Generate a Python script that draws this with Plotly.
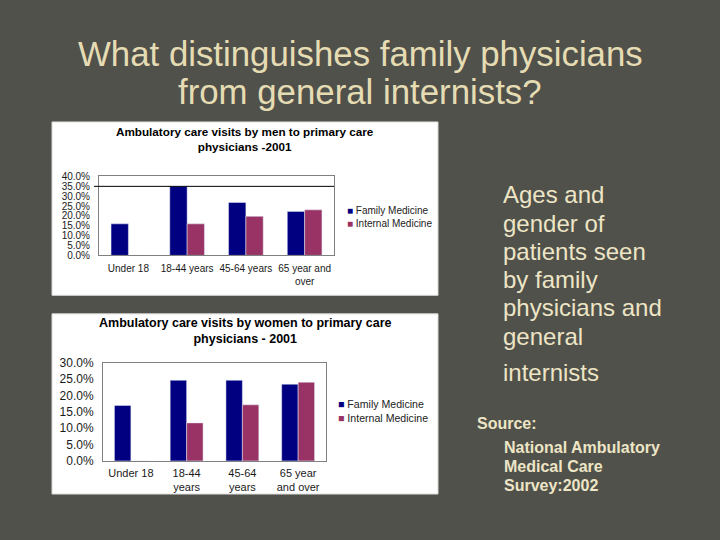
import plotly.graph_objects as go

# age groups
age_men = ["Under 18", "18-44 years", "45-64 years", "65 year and<br>over"]
age_women = ["Under 18", "18-44<br>years", "45-64<br>years", "65 year<br>and over"]

# share of visits (%) - men
men_family = [16.0, 35.0, 26.8, 22.3]
men_internal = [0.0, 16.0, 19.8, 23.1]

# share of visits (%) - women
women_family = [16.9, 24.6, 24.6, 23.4]
women_internal = [0.0, 11.6, 17.1, 24.0]

men_ticks = [0, 5, 10, 15, 20, 25, 30, 35, 40]
women_ticks = [0, 5, 10, 15, 20, 25, 30]

NAVY = "#000080"
PLUM = "#993366"
W, H = 720, 540


def px_x(v):
    return v / W


def px_y(v):
    return 1 - v / H


fig = go.Figure()

fig.add_trace(go.Bar(x=age_men, y=men_family, name="Family Medicine",
                     marker_color=NAVY, xaxis="x", yaxis="y"))
fig.add_trace(go.Bar(x=age_men, y=men_internal, name="Internal Medicine",
                     marker_color=PLUM, xaxis="x", yaxis="y"))
fig.add_trace(go.Bar(x=age_women, y=women_family, name="Family Medicine",
                     marker_color=NAVY, xaxis="x2", yaxis="y2"))
fig.add_trace(go.Bar(x=age_women, y=women_internal, name="Internal Medicine",
                     marker_color=PLUM, xaxis="x2", yaxis="y2"))

axis_font = dict(family="Liberation Sans, Arial", size=10, color="#1a1a1a")

fig.update_layout(
    width=W, height=H,
    margin=dict(l=0, r=0, t=0, b=0),
    paper_bgcolor="#50514a",
    plot_bgcolor="#c0c0c0",
    showlegend=False,
    barmode="group",
    bargap=0.41,
    bargroupgap=0,
    font=dict(family="Liberation Sans, Arial"),
    xaxis=dict(domain=[px_x(99), px_x(334)], anchor="y",
               showline=True, linecolor="#808080", mirror=True,
               ticks="", tickfont=axis_font, ticklabelstandoff=4),
    yaxis=dict(domain=[px_y(255), px_y(174)], anchor="x",
               range=[0, 40], tickvals=men_ticks,
               ticktext=[f"{t:.1f}%" for t in men_ticks],
               showgrid=False, zeroline=False,
               showline=True, linecolor="#808080", mirror=True,
               ticks="", tickfont=axis_font, ticklabelstandoff=6),
    xaxis2=dict(domain=[px_x(103), px_x(326)], anchor="y2",
                showline=True, linecolor="#808080", mirror=True,
                ticks="", tickfont=dict(axis_font, size=11), ticklabelstandoff=2),
    yaxis2=dict(domain=[px_y(466), px_y(365)], anchor="x2",
                range=[0, 30], tickvals=women_ticks,
                ticktext=[f"{t:.1f}%" for t in women_ticks],
                showgrid=False, zeroline=False,
                showline=True, linecolor="#808080", mirror=True,
                ticks="", tickfont=dict(axis_font, size=12), ticklabelstandoff=6),
)

# white chart panels
for top, bottom in [(118, 296), (315, 500)]:
    fig.add_shape(type="rect", xref="paper", yref="paper", layer="below",
                  x0=px_x(52), x1=px_x(438), y0=px_y(bottom), y1=px_y(top),
                  fillcolor="white", line=dict(color="#d8d8d8", width=1))

# the black line at 35% in the men's chart
fig.add_shape(type="line", xref="paper", yref="y",
              x0=px_x(94), x1=px_x(334), y0=35, y1=35,
              line=dict(color="black", width=1))

ann = []


def add_text(text, x, y, size, color, xanchor="left", **kw):
    ann.append(dict(text=text, x=px_x(x), y=px_y(y), xref="paper", yref="paper",
                    xanchor=xanchor, yanchor="middle", showarrow=False,
                    font=dict(size=size, color=color), **kw))


title_color = "#e6dcb4"
add_text("What distinguishes family physicians", 360, 48, 34.8, title_color, "center")
add_text("from general internists?", 360, 87, 34.8, title_color, "center")

add_text("<b>Ambulatory care visits by men to primary care<br>physicians -2001</b>",
         245, 136, 11.7, "black", "center", align="center")
add_text("<b>Ambulatory care visits by women to primary care<br>physicians - 2001</b>",
         245, 333, 12.5, "black", "center", align="center")

# legends
for lx, ly, fs in [(345, 216, 10), (336, 415, 10.6)]:
    add_text(f"<span style='color:{NAVY}'>■</span> Family Medicine<br>"
             f"<span style='color:{PLUM}'>■</span> Internal Medicine",
             lx, ly, fs, "#222222", align="left")

body_color = "#ede5c6"
body = ["Ages and", "gender of", "patients seen", "by family",
        "physicians and", "general"]
for i, line in enumerate(body):
    add_text(line, 501, 193 + 29 * i, 24, body_color)
add_text("internists", 501, 375, 24, body_color)

add_text("<b>Source:</b>", 475, 428, 16, body_color)
for i, line in enumerate(["National Ambulatory", "Medical Care", "Survey:2002"]):
    add_text(f"<b>{line}</b>", 502, 452 + 19.5 * i, 16, body_color)

fig.update_layout(annotations=ann)

fig.write_html("out.html", config={"displayModeBar": False},
               post_script="document.body.style.margin='0';")
